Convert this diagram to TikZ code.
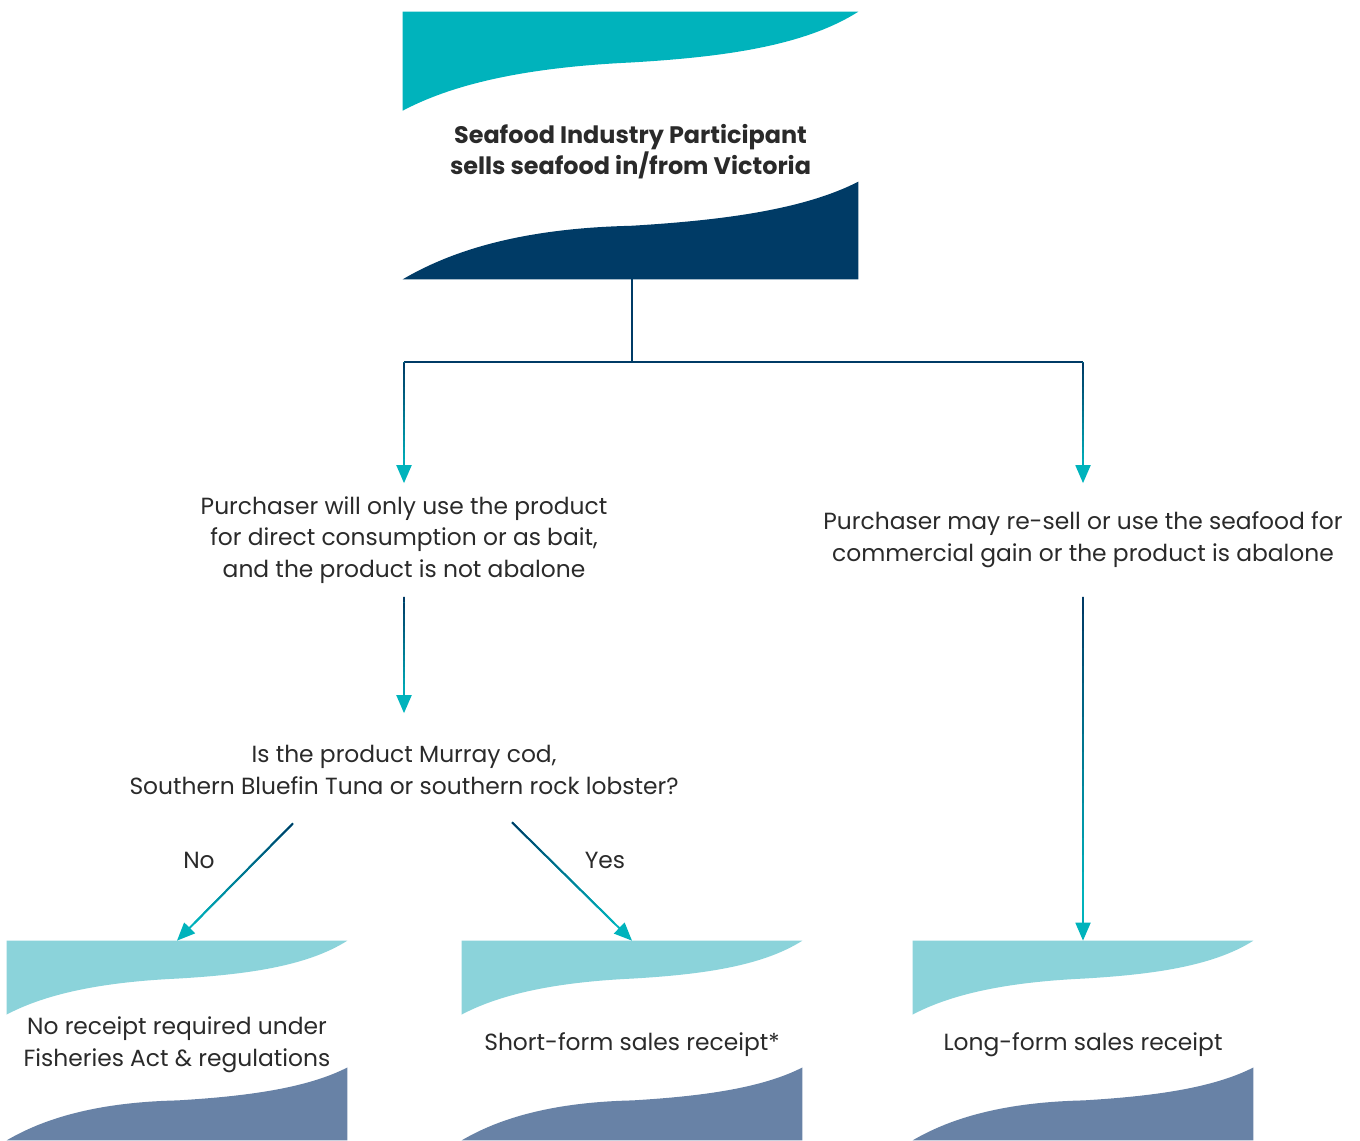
\documentclass[tikz,border=0pt]{standalone}
\usepackage{fontspec}
\setmainfont{Poppins}
\usetikzlibrary{arrows.meta,calc,backgrounds}

\definecolor{seablue}{HTML}{00B3BC}
\definecolor{deepnavy}{HTML}{003B66}
\definecolor{paleteal}{HTML}{8BD3DA}
\definecolor{slateblue}{HTML}{6882A6}
\definecolor{inkgrey}{HTML}{2A2A2A}

\newcommand{\flowtext}{\fontsize{13.3}{18.1}\selectfont}
\newcommand{\flowtitle}{\fontsize{13.6}{18.1}\selectfont\bfseries}
% invisible strut that sets a text a little lower in its box
\newcommand{\lift}[1]{\rule{0pt}{#1}}

% connector that fades from navy to teal, tip in teal
\newcommand{\fadearrow}[2]{%
  \draw[link, seablue, -{Triangle[width=0.3cm,length=0.36cm]}] (#1) -- (#2);
  \foreach \k in {0,...,16}{%
    \pgfmathtruncatemacro{\mix}{100-6*\k}
    \draw[link, deepnavy!\mix!seablue] ($(#1)!\k/20!(#2)$) -- ($(#1)!\k/20+0.05!(#2)$);
  }%
}

% two wave bands inside a flag node: node, top colour, bottom colour
\newcommand{\waves}[3]{%
  \begin{scope}[shift={(#1.south west)}, x={($(#1.south east)-(#1.south west)$)}, y={($(#1.north west)-(#1.south west)$)}]
    \fill[#2] (0,1) -- (0,0.63) .. controls (0.1,0.72) and (0.25,0.79) .. (0.5,0.81)
        .. controls (0.7,0.83) and (0.88,0.87) .. (1,1) -- cycle;
    \fill[#3] (0,0) .. controls (0.1,0.1) and (0.25,0.19) .. (0.5,0.2)
        .. controls (0.7,0.22) and (0.88,0.26) .. (1,0.365) -- (1,0) -- cycle;
  \end{scope}%
}

\begin{document}
\begin{tikzpicture}[
    % Styles for the boxes and texts
    bigflag/.style={minimum width=9.1cm, minimum height=5.34cm, inner sep=0pt, align=center, text=inkgrey, font=\flowtitle},
    smallflag/.style={minimum width=6.8cm, minimum height=3.98cm, inner sep=0pt, align=center, text=inkgrey, font=\flowtext},
    note/.style={align=center, minimum height=2.26cm, inner sep=0pt, text=inkgrey, font=\flowtext},
    answer/.style={text=inkgrey, font=\flowtext},
    link/.style={line width=1.1pt},
    trunk/.style={link, draw=deepnavy}
]

\useasboundingbox (0,0) rectangle (27.2,-22.8);

% Start box
\node[bigflag] (seller) at (12.61,-2.91) {\lift{18pt}Seafood Industry Participant\\sells seafood in/from Victoria};

% Purchaser cases
\node[note] (consume) at (8.08,-10.8) {Purchaser will only use the product\\for direct consumption or as bait,\\and the product is not abalone};
\node[note] (resell) at (21.66,-10.8) {Purchaser may re-sell or use the seafood for\\commercial gain or the product is abalone};

% Species question
\node[note] (question) at (8.08,-15.4) {Is the product Murray cod,\\Southern Bluefin Tuna or southern rock lobster?};

% Outcomes
\node[smallflag] (noreceipt) at (3.54,-20.81) {\lift{14.6pt}No receipt required under\\Fisheries Act \& regulations};
\node[smallflag] (shortform) at (12.64,-20.81) {\lift{14.6pt}Short-form sales receipt*};
\node[smallflag] (longform) at (21.66,-20.81) {\lift{14.6pt}Long-form sales receipt};

% Wave bands behind the box texts
\begin{scope}[on background layer]
    \waves{seller}{seablue}{deepnavy}
    \waves{noreceipt}{paleteal}{slateblue}
    \waves{shortform}{paleteal}{slateblue}
    \waves{longform}{paleteal}{slateblue}
\end{scope}

% Split from the start box
\draw[trunk] ([xshift=0.03cm]seller.south) -- ++(0,-1.66) coordinate (split);
\coordinate (dropL) at (consume.north |- split);
\coordinate (dropR) at (resell.north |- split);
\draw[trunk] (dropL) -- (dropR);
\fadearrow{dropL}{consume.north}
\fadearrow{dropR}{resell.north}

% Down the left side
\fadearrow{consume.south}{question.north}
\coordinate (noStart) at ([xshift=-2.22cm, yshift=0.07cm]question.south);
\coordinate (yesStart) at ([xshift=2.16cm, yshift=0.09cm]question.south);
\fadearrow{noStart}{noreceipt.north}
\fadearrow{yesStart}{shortform.north}
\node[answer] (nolabel) at (3.98,-17.2) {No};
\node[answer] (yeslabel) at (12.1,-17.2) {Yes};

% Down the right side
\fadearrow{resell.south}{longform.north}

\end{tikzpicture}
\end{document}
